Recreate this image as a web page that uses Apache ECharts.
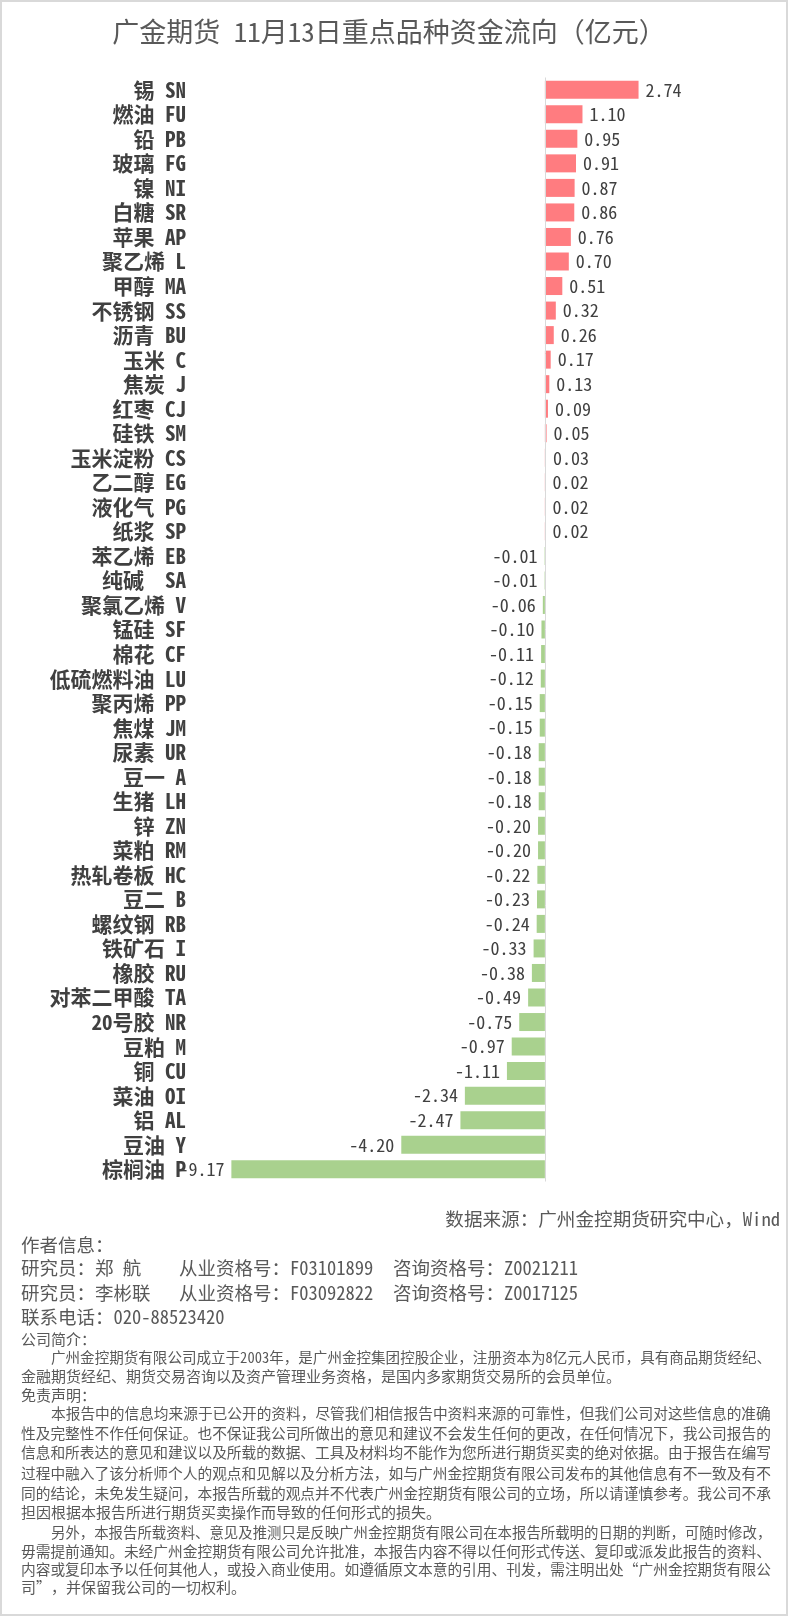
<!DOCTYPE html>
<html>
<head>
<meta charset="utf-8">
<script src="https://cdn.jsdelivr.net/npm/echarts@6/dist/echarts.min.js"></script>
<style>
html,body{margin:0;padding:0;background:#fff;}
#c{width:788px;height:1616px;box-sizing:border-box;border:2px solid #d9d9d9;}
</style>
</head>
<body>
<div id="c"></div>
<script>
const categories = ['锡 SN','燃油 FU','铅 PB','玻璃 FG','镍 NI','白糖 SR','苹果 AP','聚乙烯 L','甲醇 MA','不锈钢 SS','沥青 BU','玉米 C','焦炭 J','红枣 CJ','硅铁 SM','玉米淀粉 CS','乙二醇 EG','液化气 PG','纸浆 SP','苯乙烯 EB','纯碱  SA','聚氯乙烯 V','锰硅 SF','棉花 CF','低硫燃料油 LU','聚丙烯 PP','焦煤 JM','尿素 UR','豆一 A','生猪 LH','锌 ZN','菜粕 RM','热轧卷板 HC','豆二 B','螺纹钢 RB','铁矿石 I','橡胶 RU','对苯二甲酸 TA','20号胶 NR','豆粕 M','铜 CU','菜油 OI','铝 AL','豆油 Y','棕榈油 P'];
const values = [2.74,1.10,0.95,0.91,0.87,0.86,0.76,0.70,0.51,0.32,0.26,0.17,0.13,0.09,0.05,0.03,0.02,0.02,0.02,-0.01,-0.01,-0.06,-0.10,-0.11,-0.12,-0.15,-0.15,-0.18,-0.18,-0.18,-0.20,-0.20,-0.22,-0.23,-0.24,-0.33,-0.38,-0.49,-0.75,-0.97,-1.11,-2.34,-2.47,-4.20,-9.17];

const titleText = '广金期货 11月13日重点品种资金流向（亿元）';
const sourceText = '数据来源：广州金控期货研究中心，Wind';
const authorHead = '作者信息：';
const author1 = ['研究员：郑 航','从业资格号：F03101899','咨询资格号：Z0021211'];
const author2 = ['研究员：李彬联','从业资格号：F03092822','咨询资格号：Z0017125'];
const phoneText = '联系电话：020-88523420';
const introHead = '公司简介：';
const introLines = ['广州金控期货有限公司成立于2003年，是广州金控集团控股企业，注册资本为8亿元人民币，具有商品期货经纪、','金融期货经纪、期货交易咨询以及资产管理业务资格，是国内多家期货交易所的会员单位。'];
const disclaimHead = '免责声明：';
const disclaimLines = ['本报告中的信息均来源于已公开的资料，尽管我们相信报告中资料来源的可靠性，但我们公司对这些信息的准确','性及完整性不作任何保证。也不保证我公司所做出的意见和建议不会发生任何的更改，在任何情况下，我公司报告的','信息和所表达的意见和建议以及所载的数据、工具及材料均不能作为您所进行期货买卖的绝对依据。由于报告在编写','过程中融入了该分析师个人的观点和见解以及分析方法，如与广州金控期货有限公司发布的其他信息有不一致及有不','同的结论，未免发生疑问，本报告所载的观点并不代表广州金控期货有限公司的立场，所以请谨慎参考。我公司不承','担因根据本报告所进行期货买卖操作而导致的任何形式的损失。'];
const disclaimLines2 = ['另外，本报告所载资料、意见及推测只是反映广州金控期货有限公司在本报告所载明的日期的判断，可随时修改，','毋需提前通知。未经广州金控期货有限公司允许批准，本报告内容不得以任何形式传送、复印或派发此报告的资料、','内容或复印本予以任何其他人，或投入商业使用。如遵循原文本意的引用、刊发，需注明出处“广州金控期货有限公','司”，并保留我公司的一切权利。'];

const FF = "'Noto Sans Mono CJK SC','Noto Sans CJK SC',sans-serif";
const POS = '#FF7C80', NEG = '#A9D18E';

const chart = echarts.init(document.getElementById('c'));

const data = values.map(v => ({
  value: v,
  itemStyle: {color: v >= 0 ? POS : NEG},
  label: {position: v >= 0 ? 'right' : 'left'}
}));

const mctx = document.createElement('canvas').getContext('2d');
function fitSize(text, base, width) {
  mctx.font = 'normal ' + base + 'px ' + FF;
  const w = mctx.measureText(text).width;
  return w > width ? base * width / w : base;
}

function txt(text, x, y, size, opts) {
  opts = opts || {};
  return {
    type: 'text', x: x, y: y, silent: true,
    style: {
      text: text,
      font: (opts.weight || 'normal') + ' ' + size + 'px ' + FF,
      fill: opts.color || '#595959',
      align: opts.align || 'left',
      verticalAlign: 'middle'
    }
  };
}
function para(text, x, y, full) {
  const s = full ? fitSize(text, 15.2, 769 - x) : 15;
  return txt(text, x, y, s);
}

const g = [];
g.push(txt(titleText, 387, 30, 27, {align: 'center'}));
g.push(txt(sourceText, 778, 1217, 18.6, {align: 'right'}));
g.push(txt(authorHead, 19, 1243, 18.5));
[[author1, 1266], [author2, 1291]].forEach(([a, y]) => {
  g.push(txt(a[0], 19, y, 18.5));
  g.push(txt(a[1], 177, y, 18.5));
  g.push(txt(a[2], 391, y, 18.5));
});
g.push(txt(phoneText, 19, 1315, 18.5));
g.push(txt(introHead, 19, 1337, 15));
g.push(para(introLines[0], 49, 1355, true));
g.push(para(introLines[1], 19, 1374, false));
g.push(txt(disclaimHead, 19, 1393, 15));
const dy = [1411, 1431, 1450, 1471, 1491, 1510];
disclaimLines.forEach((t, i) => g.push(para(t, i === 0 ? 49 : 19, dy[i], i < disclaimLines.length - 1)));
const dy2 = [1531, 1549, 1567, 1585];
disclaimLines2.forEach((t, i) => g.push(para(t, i === 0 ? 49 : 19, dy2[i], i < disclaimLines2.length - 1)));

chart.setOption({
  animation: false,
  backgroundColor: '#fff',
  grid: {left: 201, right: 36, top: 75.5, height: 1104, containLabel: false},
  xAxis: {type: 'value', min: -10, max: 6, show: false},
  yAxis: {
    type: 'category', data: categories, inverse: true,
    axisLine: {show: false, onZero: false}, axisTick: {show: false},
    axisLabel: {
      interval: 0, margin: 17, color: '#404040', fontSize: 21, fontWeight: 'bold', fontFamily: FF
    }
  },
  series: [{
    type: 'bar', data: data, barWidth: 18,
    label: {
      show: true, distance: 7, color: '#404040', fontSize: 18, fontFamily: FF,
      formatter: p => p.value.toFixed(2)
    },
    markLine: {
      silent: true, symbol: 'none', label: {show: false},
      lineStyle: {color: '#d9d9d9', type: 'solid', width: 1},
      data: [{xAxis: 0}]
    }
  }],
  graphic: g
});
</script>
</body>
</html>
